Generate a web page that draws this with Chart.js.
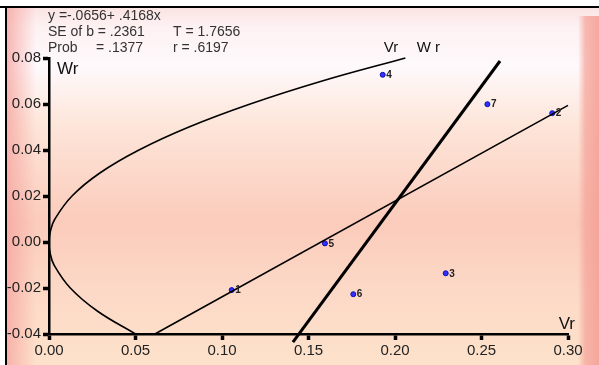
<!DOCTYPE html>
<html>
<head>
<meta charset="utf-8">
<script src="https://cdn.jsdelivr.net/npm/chart.js@4/dist/chart.umd.min.js"></script>
<style>
  html, body { margin: 0; padding: 0; background: #fff; }
  #wrap { width: 599px; height: 365px; }
</style>
</head>
<body>
<div id="wrap"><canvas id="grafico" width="599" height="365"></canvas></div>
<script>
// Datos (Vr en x, Wr en y)
const pointLabels = ['1', '2', '3', '4', '5', '6', '7'];
const pointVr = [0.1056, 0.2909, 0.2293, 0.1929, 0.1595, 0.1759, 0.2534];
const pointWr = [-0.0209, 0.0560, -0.0136, 0.0727, -0.0006, -0.0227, 0.0599];

// Parábola límite
const parabolaWr = [-0.04, -0.03, -0.02, -0.01, -0.005, 0, 0.005, 0.01, 0.02, 0.03, 0.04, 0.05, 0.06, 0.07, 0.08];
const parabolaVr = [0.0500, 0.0279, 0.0123, 0.0029, 0.0007, 0, 0.0009, 0.0034, 0.0133, 0.0294, 0.0520, 0.0809, 0.1163, 0.1579, 0.2060];

// Recta de regresión y recta Wr
const regVr = [0.0612, 0.30];
const regWr = [-0.04, 0.0594];
const wrLineVr = [0.141, 0.2607];
const wrLineWr = [-0.0435, 0.0787];

const xTicks = [0, 0.05, 0.10, 0.15, 0.20, 0.25, 0.30];
const yTicks = [-0.04, -0.02, 0.00, 0.02, 0.04, 0.06, 0.08];

const statLines = [
  ['y =-.0656+ .4168x'],
  ['SE of b = .2361', 'T = 1.7656'],
  ['Prob', '= .1377', 'r = .6197']
];

const FONT = '"Liberation Sans", Arial, sans-serif';
const zip = (xs, ys) => xs.map((x, i) => ({ x, y: ys[i] }));

// Fondo degradado y marco
const fondo = {
  id: 'fondo',
  beforeDraw(chart) {
    const ctx = chart.ctx;
    const W = chart.width, H = chart.height;
    ctx.save();
    ctx.fillStyle = '#fff';
    ctx.fillRect(0, 0, W, H);
    const g = ctx.createLinearGradient(0, 9, 0, H);
    g.addColorStop(0, '#fbe4e4');
    g.addColorStop(0.05, '#fdf1f2');
    g.addColorStop(0.16, '#fef9fc');
    g.addColorStop(0.32, '#fde6da');
    g.addColorStop(0.6, '#fbcbbb');
    g.addColorStop(0.78, '#fcd8c6');
    g.addColorStop(1, '#fde2cb');
    ctx.fillStyle = g;
    ctx.fillRect(6, 8, W - 6, H - 8);
    const gl = ctx.createLinearGradient(6, 0, 36, 0);
    gl.addColorStop(0, 'rgba(246,165,160,0.8)');
    gl.addColorStop(1, 'rgba(246,165,160,0)');
    ctx.fillStyle = gl;
    ctx.fillRect(6, 8, 30, H - 8);
    const gr = ctx.createLinearGradient(578, 0, 599, 0);
    gr.addColorStop(0, 'rgba(245,165,155,0)');
    gr.addColorStop(0.35, 'rgba(245,165,155,0.75)');
    gr.addColorStop(1, 'rgba(245,160,150,0.9)');
    ctx.fillStyle = gr;
    ctx.fillRect(578, 16, 21, H - 16);
    ctx.fillStyle = '#000';
    ctx.fillRect(0, 6, W, 2);
    ctx.fillRect(5, 6, 2, H - 6);
    ctx.restore();
  }
};

// Textos: estadísticos, títulos de ejes y etiquetas de puntos
const textos = {
  id: 'textos',
  afterDatasetsDraw(chart) {
    const ctx = chart.ctx;
    const xs = chart.scales.x;
    const area = chart.chartArea;
    ctx.save();
    ctx.textBaseline = 'middle';
    ctx.fillStyle = '#333';
    ctx.font = '14px ' + FONT;
    const cols = [48, 96, 173];
    statLines.forEach((line, i) => {
      line.forEach((t, j) => {
        let cx = cols[0];
        if (line.length === 2 && j === 1) cx = cols[2];
        if (line.length === 3) cx = cols[j];
        ctx.fillText(t, cx, 16 + i * 16);
      });
    });
    ctx.fillStyle = '#111';
    ctx.font = '17px ' + FONT;
    ctx.fillText('Wr', area.left + 8, area.top + 11);
    ctx.textAlign = 'right';
    ctx.fillText('Vr', area.right + 7, area.bottom - 10);
    ctx.textAlign = 'left';
    ctx.font = '15px ' + FONT;
    ctx.fillText('Vr', xs.getPixelForValue(0.1935), area.top - 10);
    ctx.fillText('W r', xs.getPixelForValue(0.2125), area.top - 10);

    const meta = chart.getDatasetMeta(3);
    ctx.font = 'bold 10px ' + FONT;
    ctx.fillStyle = '#222';
    meta.data.forEach((p, i) => {
      ctx.fillText(pointLabels[i], p.x + 3.5, p.y + 0.5);
    });
    ctx.restore();
  }
};

const ctx = document.getElementById('grafico').getContext('2d');
new Chart(ctx, {
  type: 'scatter',
  data: {
    datasets: [
      {
        type: 'line', data: zip(parabolaVr, parabolaWr),
        borderColor: '#000', borderWidth: 1.6, pointRadius: 0, tension: 0.4, fill: false, clip: false
      },
      {
        type: 'line', data: zip(regVr, regWr),
        borderColor: '#000', borderWidth: 1.6, pointRadius: 0, fill: false, clip: false
      },
      {
        type: 'line', data: zip(wrLineVr, wrLineWr),
        borderColor: '#000', borderWidth: 3, pointRadius: 0, fill: false, clip: false
      },
      {
        data: zip(pointVr, pointWr),
        pointRadius: 2.5, backgroundColor: '#3030ff', borderColor: '#1010b0', borderWidth: 1, clip: false
      }
    ]
  },
  options: {
    responsive: false,
    animation: false,
    layout: { padding: { top: 58, right: 31, left: 0, bottom: 0 } },
    plugins: { legend: { display: false }, tooltip: { enabled: false } },
    scales: {
      x: {
        type: 'linear', min: 0, max: 0.3,
        afterBuildTicks: s => { s.ticks = xTicks.map(v => ({ value: v })); },
        afterFit: s => { s.height = 31; },
        ticks: { callback: v => v.toFixed(2), color: '#222', font: { family: FONT, size: 15 }, padding: 2, maxRotation: 0 },
        grid: { drawOnChartArea: false, drawTicks: true, tickLength: 6, tickWidth: 3.5, tickColor: '#000' },
        border: { display: true, color: '#000', width: 2.5 }
      },
      y: {
        type: 'linear', min: -0.04, max: 0.08,
        afterBuildTicks: s => { s.ticks = yTicks.map(v => ({ value: v })); },
        afterFit: s => { s.width = 49; },
        ticks: { callback: v => v.toFixed(2), color: '#222', font: { family: FONT, size: 15 }, padding: 2 },
        grid: { drawOnChartArea: false, drawTicks: true, tickLength: 6, tickWidth: 3.5, tickColor: '#000' },
        border: { display: true, color: '#000', width: 2.5 }
      }
    }
  },
  plugins: [fondo, textos]
});
</script>
</body>
</html>
